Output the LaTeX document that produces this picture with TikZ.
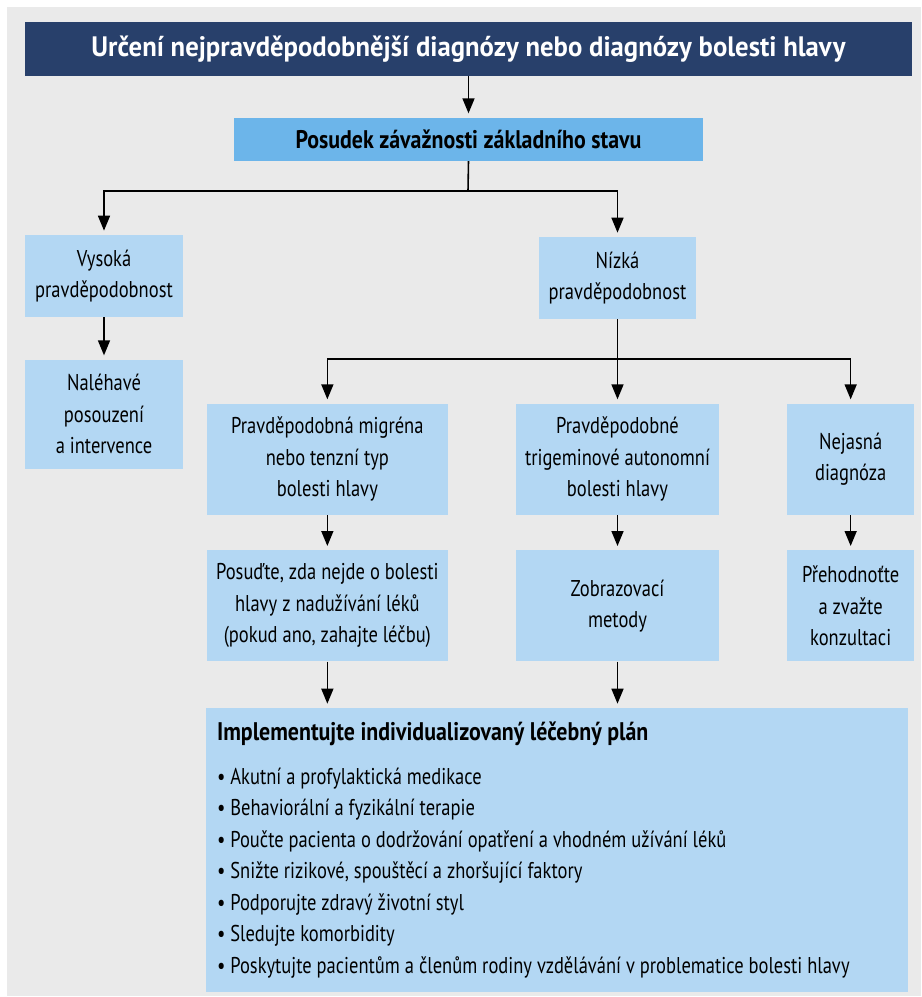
\documentclass[tikz,border=0pt]{standalone}
\usepackage{fontspec}
\setmainfont{PT Sans}[UprightFeatures={FakeStretch=0.81}, BoldFeatures={FakeStretch=0.86}]
\newfontfamily\headfont{PT Sans}[UprightFeatures={FakeStretch=0.95}, BoldFeatures={FakeStretch=0.95}]
\usetikzlibrary{positioning,arrows.meta}

\definecolor{navy}{HTML}{28406B}
\definecolor{sevblue}{HTML}{6CB5EA}
\definecolor{paleblue}{HTML}{B3D7F3}
\definecolor{panel}{HTML}{EAEAEA}

\tikzset{
  txt/.style={font=\fontsize{13pt}{17.9pt}\selectfont},
  box/.style={txt, fill=paleblue, align=center, inner sep=2pt},
  titlebox/.style={fill=navy, text=white, align=center,
    font=\headfont\fontsize{16pt}{20pt}\selectfont\bfseries,
    minimum width=17.74cm, minimum height=1.08cm},
  sevbox/.style={fill=sevblue, align=center,
    font=\fontsize{14.5pt}{18pt}\selectfont\bfseries,
    minimum width=9.4cm, minimum height=0.86cm},
  planbox/.style={txt, fill=paleblue, align=flush left, text width=13.6cm,
    minimum width=14.04cm, minimum height=5.68cm, inner sep=0.22cm},
  arr/.style={line width=0.9pt, -{Triangle[length=0.3cm, width=0.24cm]},
    shorten >=0.08cm},
  link/.style={line width=0.9pt}
}

\begin{document}
\begin{tikzpicture}[x=0.02cm, y=-0.02cm]
  \useasboundingbox (0,0) rectangle (921,997);
  \fill[panel] (7,7) rectangle (921,996);

  \node[titlebox] (title) at (468.5,49)
    {Určení nejpravděpodobnější diagnózy nebo diagnózy bolesti hlavy};
  \node[sevbox, below=0.82cm of title] (sev)
    {Posudek závažnosti základního stavu};

  \node[box, minimum width=3.16cm, minimum height=1.64cm] (high) at (104,276)
    {Vysoká\\pravděpodobnost};
  \node[box, minimum width=3.16cm, minimum height=1.64cm] (low) at (617.5,278)
    {Nízká\\pravděpodobnost};
  \node[box, minimum width=3.16cm, minimum height=2.18cm, below=0.84cm of high] (urgent)
    {Naléhavé\\posouzení\\a intervence};

  \node[box, minimum width=4.08cm, minimum height=2.22cm, below=1.68cm of low] (trig)
    {Pravděpodobné\\trigeminové autonomní\\bolesti hlavy};
  \node[box, minimum width=4.82cm, minimum height=2.22cm, left=1.34cm of trig] (mig)
    {Pravděpodobná migréna\\nebo tenzní typ\\bolesti hlavy};
  \node[box, minimum width=2.54cm, minimum height=2.22cm, right=1.34cm of trig] (unclear)
    {Nejasná\\diagnóza};

  \node[box, minimum width=4.82cm, minimum height=2.22cm, below=0.7cm of mig] (overuse)
    {Posuďte, zda nejde o bolesti\\hlavy z nadužívání léků\\(pokud ano, zahajte léčbu)};
  \node[box, minimum width=4.08cm, minimum height=2.22cm, below=0.7cm of trig] (imaging)
    {Zobrazovací\\metody};
  \node[box, minimum width=2.54cm, minimum height=2.22cm, below=0.7cm of unclear] (review)
    {Přehodnoťte\\a zvažte\\konzultaci};

  \node[planbox] (plan) at (557,850)
    {{\bfseries\fontsize{14.5pt}{18pt}\selectfont Implementujte individualizovaný léčebný plán}\\[7pt]
     • Akutní a profylaktická medikace\\
     • Behaviorální a fyzikální terapie\\
     • Poučte pacienta o dodržování opatření a vhodném užívání léků\\
     • Snižte rizikové, spouštěcí a zhoršující faktory\\
     • Podporujte zdravý životní styl\\
     • Sledujte komorbidity\\
     • Poskytujte pacientům a členům rodiny vzdělávání v problematice bolesti hlavy};

  % connectors
  \coordinate (fork1) at (468,191);
  \coordinate (fork2) at (617.5,359);
  \draw[arr] (title) -- (sev);
  \draw[link] (sev.south) -- (fork1);
  \draw[arr] (fork1) -| (high.north);
  \draw[arr] (fork1) -| (low.north);
  \draw[arr] (high) -- (urgent);
  \draw[link] (low.south) -- (fork2);
  \draw[arr] (fork2) -| (mig.north);
  \draw[arr] (fork2) -- (trig.north);
  \draw[arr] (fork2) -| (unclear.north);
  \draw[arr] (mig) -- (overuse);
  \draw[arr] (trig) -- (imaging);
  \draw[arr] (unclear) -- (review);
  \draw[arr] (overuse.south) -- (overuse.south |- plan.north);
  \draw[arr] (imaging.south) -- (imaging.south |- plan.north);
\end{tikzpicture}
\end{document}
